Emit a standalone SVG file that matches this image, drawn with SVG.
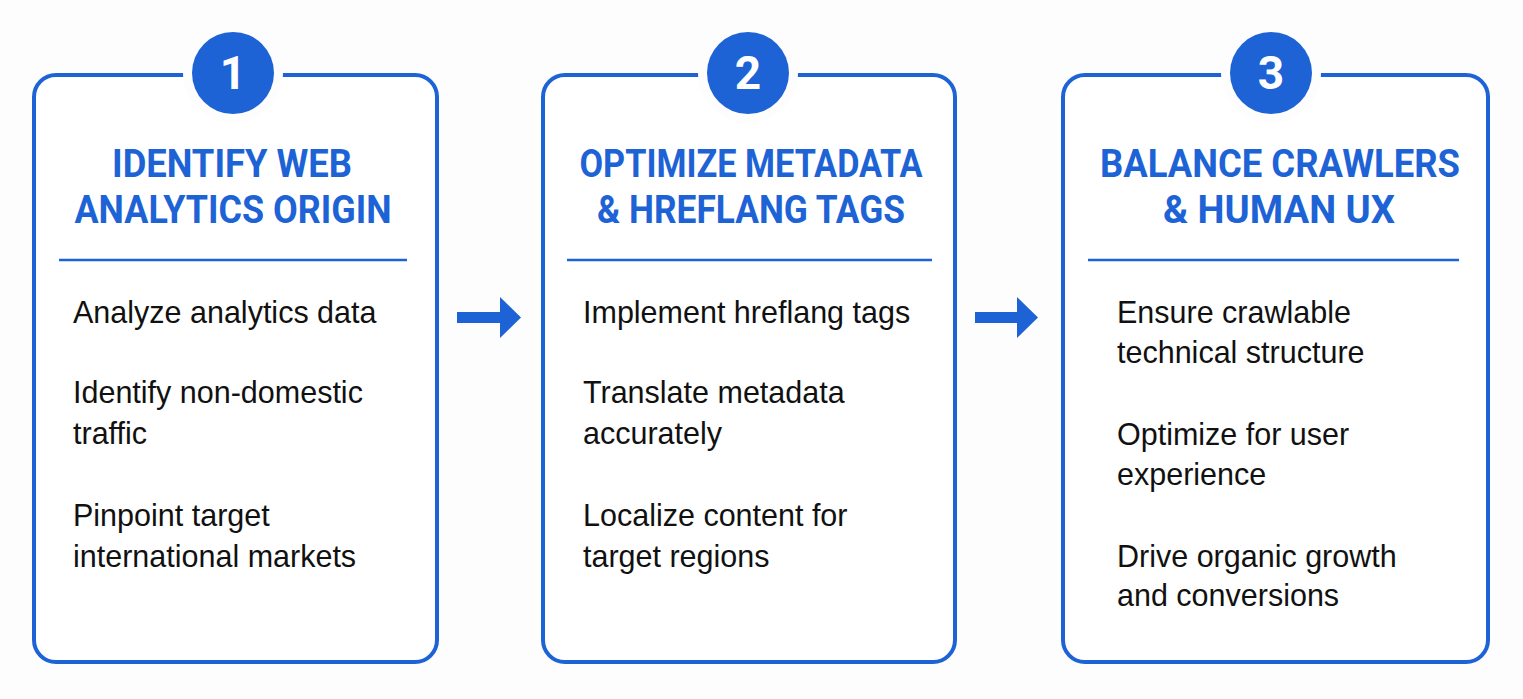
<svg xmlns="http://www.w3.org/2000/svg" width="1523" height="699" viewBox="0 0 1523 699">
<style>
.box{fill:#ffffff;stroke:#1d63d6;stroke-width:4}
.mask{fill:#fdfdfd}
.badge{fill:#1d63d6}
.num{font-family:Roboto,"Liberation Sans",sans-serif;font-weight:700;font-size:46px;fill:#ffffff;text-anchor:middle}
.title{font-family:Roboto,"Liberation Sans",sans-serif;font-weight:700;font-size:38px;fill:#1d63d6;text-anchor:middle}
.div{stroke:#1d63d6;stroke-width:2.5}
.body{font-family:"Liberation Sans",Arial,sans-serif;font-size:30.5px;fill:#111111}
.arrow{fill:#1d63d6}
</style>
<rect width="1523" height="699" fill="#fdfdfd"/>
<g id="node1">
<rect class="box" x="34" y="75" width="403" height="587" rx="22"/>
<circle class="mask" cx="233" cy="73" r="50"/>
<circle class="badge" cx="233" cy="73" r="41"/>
<text class="num" x="233" y="89">1</text>
<text class="title" x="232" y="177" textLength="240" lengthAdjust="spacingAndGlyphs">IDENTIFY WEB</text>
<text class="title" x="233" y="223" textLength="317" lengthAdjust="spacingAndGlyphs">ANALYTICS ORIGIN</text>
<line class="div" x1="59" y1="260" x2="407" y2="260"/>
<text class="body" x="73" y="323">Analyze analytics data</text>
<text class="body" x="73" y="403">Identify non-domestic</text>
<text class="body" x="73" y="444">traffic</text>
<text class="body" x="73" y="526">Pinpoint target</text>
<text class="body" x="73" y="567">international markets</text>
</g>
<g id="node2">
<rect class="box" x="543" y="75" width="412" height="587" rx="22"/>
<circle class="mask" cx="748" cy="73" r="50"/>
<circle class="badge" cx="748" cy="73" r="41"/>
<text class="num" x="748" y="89">2</text>
<text class="title" x="751" y="177" textLength="343" lengthAdjust="spacingAndGlyphs">OPTIMIZE METADATA</text>
<text class="title" x="751" y="223" textLength="308" lengthAdjust="spacingAndGlyphs">&amp; HREFLANG TAGS</text>
<line class="div" x1="567" y1="260" x2="932" y2="260"/>
<text class="body" x="583" y="323">Implement hreflang tags</text>
<text class="body" x="583" y="403">Translate metadata</text>
<text class="body" x="583" y="444">accurately</text>
<text class="body" x="583" y="526">Localize content for</text>
<text class="body" x="583" y="567">target regions</text>
</g>
<g id="node3">
<rect class="box" x="1063" y="75" width="425" height="587" rx="22"/>
<circle class="mask" cx="1271" cy="73" r="50"/>
<circle class="badge" cx="1271" cy="73" r="41"/>
<text class="num" x="1271" y="89">3</text>
<text class="title" x="1280" y="177" textLength="360" lengthAdjust="spacingAndGlyphs">BALANCE CRAWLERS</text>
<text class="title" x="1279" y="223" textLength="232" lengthAdjust="spacingAndGlyphs">&amp; HUMAN UX</text>
<line class="div" x1="1088" y1="260" x2="1459" y2="260"/>
<text class="body" x="1117" y="323">Ensure crawlable</text>
<text class="body" x="1117" y="363">technical structure</text>
<text class="body" x="1117" y="445">Optimize for user</text>
<text class="body" x="1117" y="485">experience</text>
<text class="body" x="1117" y="567">Drive organic growth</text>
<text class="body" x="1117" y="606">and conversions</text>
</g>
<g id="connectors">
<polygon class="arrow" points="457,312 500,312 500,297 521,317.5 500,338 500,323 457,323"/>
<polygon class="arrow" points="975,312 1017,312 1017,297 1038,317.5 1017,338 1017,323 975,323"/>
</g>
</svg>
